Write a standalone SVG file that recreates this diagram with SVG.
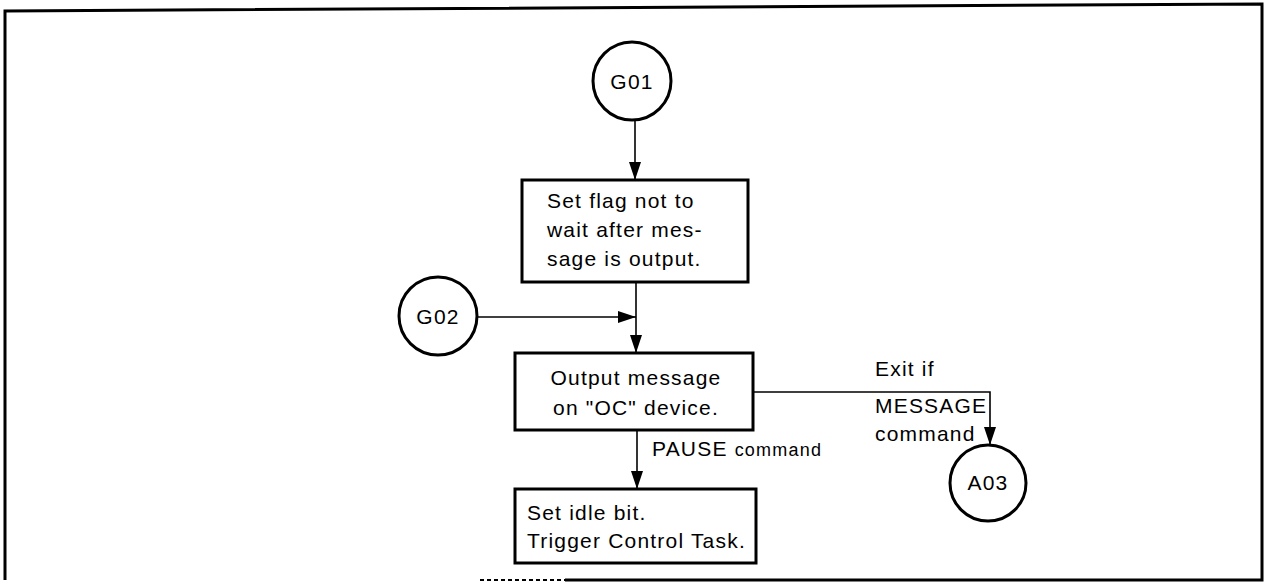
<svg xmlns="http://www.w3.org/2000/svg" width="1268" height="584" viewBox="0 0 1268 584">
<defs>
<marker id="arr" viewBox="0 0 18 12" refX="18" refY="6" markerWidth="18" markerHeight="12" markerUnits="userSpaceOnUse" orient="auto">
<path d="M0,0 L18,6 L0,12 Z" fill="#000"/>
</marker>
<style>
.t{font-family:"Liberation Sans",Arial,sans-serif;font-size:21px;letter-spacing:1.2px;fill:#000}
.c{text-anchor:middle}
.box{fill:#fff;stroke:#000;stroke-width:3}
.circ{fill:#fff;stroke:#000;stroke-width:3}
.ln{fill:none;stroke:#000;stroke-width:1.6}
.frame{fill:none;stroke:#000;stroke-width:3}
</style>
</defs>
<rect width="1268" height="584" fill="#fff"/>
<path class="frame" d="M5,580 L5,11 L1262,4 L1262,580 L565,580"/>
<line x1="480" y1="580" x2="565" y2="580" stroke="#000" stroke-width="2" stroke-dasharray="4,3"/>
<g id="connectors">
<line class="ln" x1="635" y1="120" x2="635" y2="180" marker-end="url(#arr)"/>
<line class="ln" x1="636" y1="282" x2="636" y2="353" marker-end="url(#arr)"/>
<line class="ln" x1="477" y1="317" x2="636" y2="317" marker-end="url(#arr)"/>
<polyline class="ln" points="753,392 990,392 990,445" marker-end="url(#arr)"/>
<line class="ln" x1="637" y1="430" x2="637" y2="489" marker-end="url(#arr)"/>
</g>
<g id="G01">
<circle class="circ" cx="632" cy="81" r="39"/>
<text class="t c" x="632" y="89">G01</text>
</g>
<g id="box1">
<rect class="box" x="522" y="180" width="226" height="102"/>
<text class="t" x="547" y="208">Set flag not to</text>
<text class="t" x="547" y="237">wait after mes-</text>
<text class="t" x="547" y="266">sage is output.</text>
</g>
<g id="G02">
<circle class="circ" cx="438" cy="316" r="39"/>
<text class="t c" x="438" y="324">G02</text>
</g>
<g id="box2">
<rect class="box" x="515" y="353" width="238" height="77"/>
<text class="t c" x="636" y="385">Output message</text>
<text class="t c" x="636" y="415">on "OC" device.</text>
</g>
<g id="box3">
<rect class="box" x="515" y="489" width="241" height="74"/>
<text class="t" x="527" y="520">Set idle bit.</text>
<text class="t" x="527" y="548">Trigger Control Task.</text>
</g>
<g id="A03">
<circle class="circ" cx="988" cy="483" r="38"/>
<text class="t c" x="988" y="490">A03</text>
</g>
<g id="labels">
<text class="t" x="652" y="456">PAUSE <tspan font-size="18">command</tspan></text>
<text class="t" x="875" y="376">Exit if</text>
<text class="t" x="875" y="413">MESSAGE</text>
<text class="t" x="875" y="441" font-size="18">command</text>
</g>
</svg>
